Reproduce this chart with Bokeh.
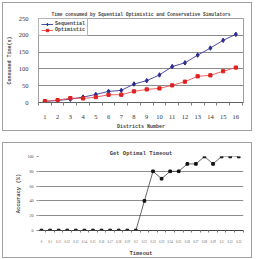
from bokeh.plotting import figure
from bokeh.layouts import column
from bokeh.models import FixedTicker, Range1d
from bokeh.embed import file_html
from bokeh.resources import INLINE

# ---- data: top chart ----
districts = [1, 2, 3, 4, 5, 6, 7, 8, 9, 10, 11, 12, 13, 14, 15, 16]
sequential = [3, 6, 10, 16, 24, 33, 36, 55, 65, 82, 107, 118, 141, 162, 185, 203]
optimistic = [4, 7, 13, 12, 16, 23, 23, 33, 39, 42, 51, 62, 78, 81, 93, 104]
y1_ticks = [0, 50, 100, 150, 200, 250]

# ---- data: bottom chart ----
timeout_labels = ["0", "0.1", "0.11", "0.12", "0.13", "0.14", "0.15", "0.16",
                  "0.17", "0.18", "0.19", "0.2", "0.21", "0.22", "0.23", "0.24",
                  "0.25", "0.26", "0.27", "0.28", "0.29", "0.3", "0.31", "0.32"]
accuracy = [0, 0, 0, 0, 0, 0, 0, 0, 0, 0, 0, 0,
            40, 80, 70, 80, 80, 90, 90, 100, 90, 100, 100, 100]
y2_ticks = [0, 20, 40, 60, 80, 100]

MONO = "Liberation Mono"
SERIF = "Liberation Serif"
GRID = "#8c8c8c"

# ================= top chart =================
p1 = figure(width=250, height=129, x_range=Range1d(0.5, 16.6), y_range=Range1d(0, 250),
            output_backend="svg", toolbar_location=None,
            min_border_left=25, min_border_right=5, min_border_top=15, min_border_bottom=24)
p1.margin = (2, 0, 0, 2)
p1.styles = {"border": "1px solid #a0a0a0", "box-sizing": "border-box"}
p1.title.text = "Time consumed by Squential Optimistic and Conservative Simulators"
p1.title.align = "center"
p1.title.text_font = MONO
p1.title.text_font_size = "4.6px"
p1.title.text_font_style = "bold"
p1.title.standoff = 3
p1.outline_line_color = "#a0a0a0"

p1.line(districts, sequential, color="#3a3a98", line_width=0.9, legend_label="Sequential")
p1.scatter(districts, sequential, marker="diamond", size=4.5, color="#2a2a90", legend_label="Sequential")
p1.line(districts, optimistic, color="#f05050", line_width=0.9, legend_label="Optimistic")
p1.scatter(districts, optimistic, marker="square", size=3.2, color="#e02020", legend_label="Optimistic")

p1.xaxis.ticker = FixedTicker(ticks=districts,
                              minor_ticks=[d + 0.5 for d in districts] + [0.5])
p1.xaxis.major_tick_line_color = None
p1.xaxis.minor_tick_out = 3
p1.xaxis.minor_tick_in = 0
p1.xaxis.minor_tick_line_color = "#808080"
p1.xaxis.axis_line_color = "#606060"
p1.xaxis.major_label_text_font = SERIF
p1.xaxis.major_label_text_font_size = "6.5px"
p1.xaxis.major_label_text_color = "#333333"
p1.xaxis.major_label_standoff = 6
p1.xaxis.axis_label = "Districts Number"
p1.xaxis.axis_label_text_font = MONO
p1.xaxis.axis_label_text_font_size = "5px"
p1.xaxis.axis_label_text_font_style = "bold"
p1.xaxis.axis_label_standoff = 2

p1.yaxis.ticker = FixedTicker(ticks=y1_ticks)
p1.yaxis.axis_line_color = None
p1.yaxis.major_tick_line_color = None
p1.yaxis.minor_tick_line_color = None
p1.yaxis.major_label_text_font = SERIF
p1.yaxis.major_label_text_font_size = "6.5px"
p1.yaxis.major_label_text_color = "#333333"
p1.yaxis.major_label_standoff = 4
p1.yaxis.axis_label = "Consumed Time(s)"
p1.yaxis.axis_label_text_font = MONO
p1.yaxis.axis_label_text_font_size = "5px"
p1.yaxis.axis_label_text_font_style = "bold"
p1.yaxis.axis_label_standoff = 3

p1.xgrid.grid_line_color = None
p1.ygrid.ticker = FixedTicker(ticks=[50, 100, 150, 200])
p1.ygrid.grid_line_color = GRID

lg = p1.legend[0]
lg.location = "top_left"
lg.margin = 0
lg.padding = 2
lg.spacing = 0
lg.border_line_color = "#707070"
lg.label_text_font = MONO
lg.label_text_font_size = "5px"
lg.label_text_font_style = "bold"
lg.label_standoff = 2
lg.glyph_width = 12
lg.glyph_height = 6
lg.label_height = 6

# ================= bottom chart =================
idx = list(range(len(timeout_labels)))
p2 = figure(width=250, height=116, x_range=Range1d(-0.35, 23.55), y_range=Range1d(0, 100),
            output_backend="svg", toolbar_location=None,
            min_border_left=26, min_border_right=10, min_border_top=13, min_border_bottom=25)
p2.margin = (11, 0, 0, 2)
p2.styles = {"border": "1px solid #a0a0a0", "box-sizing": "border-box"}
p2.title.text = "Get Optimal Timeout"
p2.title.align = "center"
p2.title.text_font = MONO
p2.title.text_font_size = "5.5px"
p2.title.text_font_style = "bold"
p2.title.standoff = 0
p2.outline_line_color = None

p2.line(idx, accuracy, color="#404040", line_width=0.8)
p2.scatter(idx, accuracy, marker="square", size=2.6, color="#111111")

p2.xaxis.ticker = FixedTicker(ticks=idx, minor_ticks=[i + 0.5 for i in idx])
p2.xaxis.major_label_overrides = {i: s for i, s in zip(idx, timeout_labels)}
p2.xaxis.major_tick_line_color = None
p2.xaxis.minor_tick_out = 2
p2.xaxis.minor_tick_in = 0
p2.xaxis.minor_tick_line_color = "#808080"
p2.xaxis.axis_line_color = "#404040"
p2.xaxis.major_label_text_font = SERIF
p2.xaxis.major_label_text_font_size = "3px"
p2.xaxis.major_label_text_color = "#555555"
p2.xaxis.major_label_standoff = 3
p2.xaxis.axis_label = "Timeout"
p2.xaxis.axis_label_text_font = MONO
p2.xaxis.axis_label_text_font_size = "5.5px"
p2.xaxis.axis_label_text_font_style = "bold"
p2.xaxis.axis_label_standoff = 4

p2.yaxis.ticker = FixedTicker(ticks=y2_ticks)
p2.yaxis.axis_line_color = None
p2.yaxis.major_tick_out = 2
p2.yaxis.major_tick_in = 0
p2.yaxis.major_tick_line_color = "#909090"
p2.yaxis.minor_tick_line_color = None
p2.yaxis.major_label_text_font = SERIF
p2.yaxis.major_label_text_font_size = "4px"
p2.yaxis.major_label_text_color = "#444444"
p2.yaxis.major_label_standoff = 3
p2.yaxis.axis_label = "Accuracy (%)"
p2.yaxis.axis_label_text_font = MONO
p2.yaxis.axis_label_text_font_size = "5.5px"
p2.yaxis.axis_label_text_font_style = "bold"
p2.yaxis.axis_label_standoff = 3

p2.xgrid.grid_line_color = None
p2.ygrid.ticker = FixedTicker(ticks=[20, 40, 60, 80])
p2.ygrid.grid_line_color = GRID

layout = column(p1, p2, spacing=0)
open("out.html", "w").write(file_html(layout, INLINE))
